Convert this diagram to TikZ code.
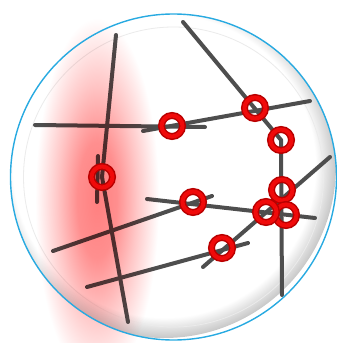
\documentclass[tikz,border=0pt]{standalone}
\definecolor{RimBlue}{RGB}{40,170,225}
\definecolor{StickGray}{RGB}{78,78,78}
\definecolor{RingRed}{RGB}{240,10,10}
\definecolor{RingDark}{RGB}{185,0,0}
\usepackage{tikz}
\usetikzlibrary{positioning, calc}
\pgfdeclareradialshading{redglow}{\pgfpoint{0bp}{0bp}}{color(0bp)=(red!50); color(8bp)=(red!44); color(16bp)=(red!22); color(25bp)=(white); color(50bp)=(white)}
\pgfdeclareradialshading{glassrim}{\pgfpoint{0bp}{0bp}}{color(0bp)=(white); color(22bp)=(white); color(25bp)=(black!22); color(50bp)=(black!22)}

\begin{document}
\begin{tikzpicture}[x=1pt, y=-1pt]
        \tikzset{
          ring/.style={circle, minimum size=21pt, inner sep=0pt, draw=RingDark,
                       line width=1.5pt, double=RingRed, double distance=4pt},
          stick/.style={StickGray, line width=4pt, line cap=round}
        }
        \useasboundingbox (0,0) rectangle (337,343);

        % Glass dish
        \coordinate (dish) at (173.5,177);
        \begin{scope}
          \clip (dish) circle (163);
          \shade[shading=glassrim] (164,166) circle (172);
        \end{scope}
        \draw[black!8, line width=0.8pt] (dish) circle (150);

        % Stick end points
        \coordinate (a1) at (116,35);   \coordinate (a2) at (128,322);
        \coordinate (s1) at (98,156);   \coordinate (s2) at (97,202);
        \coordinate (b1) at (35,125);   \coordinate (b2) at (205,127);
        \coordinate (c1) at (143,131);  \coordinate (c2) at (310,101);
        \coordinate (d1) at (183,22);   \coordinate (d2) at (282,295);
        \coordinate (f1) at (330,157);  \coordinate (f2) at (203,267);
        \coordinate (g1) at (147,199);  \coordinate (g2) at (315,218);
        \coordinate (h1) at (53,251);   \coordinate (h2) at (212,196);
        \coordinate (i1) at (87,287);   \coordinate (i2) at (248,243);

        % Crossings
        \coordinate (x1) at (102,177);
        \coordinate (x4) at (281,140);

        % Sticks
        \draw[stick] (a1) -- (x1) -- (a2);
        \draw[stick] (s1) -- (s2);
        \draw[stick] (b1) -- (b2);
        \draw[stick] (c1) -- (c2);
        \draw[stick] (d1) -- (x4) -- (d2);
        \draw[stick] (f1) -- (f2);
        \draw[stick] (g1) -- (g2);
        \draw[stick] (h1) -- (h2);
        \draw[stick] (i1) -- (i2);

        % Red glow
        \begin{scope}[blend mode=multiply]
          \shade[shading=redglow] (97,200) ellipse (62 and 182);
        \end{scope}

        \draw[RimBlue, line width=1.4pt] (dish) circle (163);

        % Rings
        \node[ring] (r1) at (x1) {};
        \node[ring] (r2) at (172,126) {};
        \node[ring] (r3) at (255,108) {};
        \node[ring] (r4) at (x4) {};
        \node[ring] (r5) at (282,190) {};
        \node[ring] (r7) at (286,215) {};
        \node[ring] (r6) at (266,212) {};
        \node[ring] (r8) at (193,202) {};
        \node[ring] (r9) at (222,248) {};
      \end{tikzpicture}
\end{document}
